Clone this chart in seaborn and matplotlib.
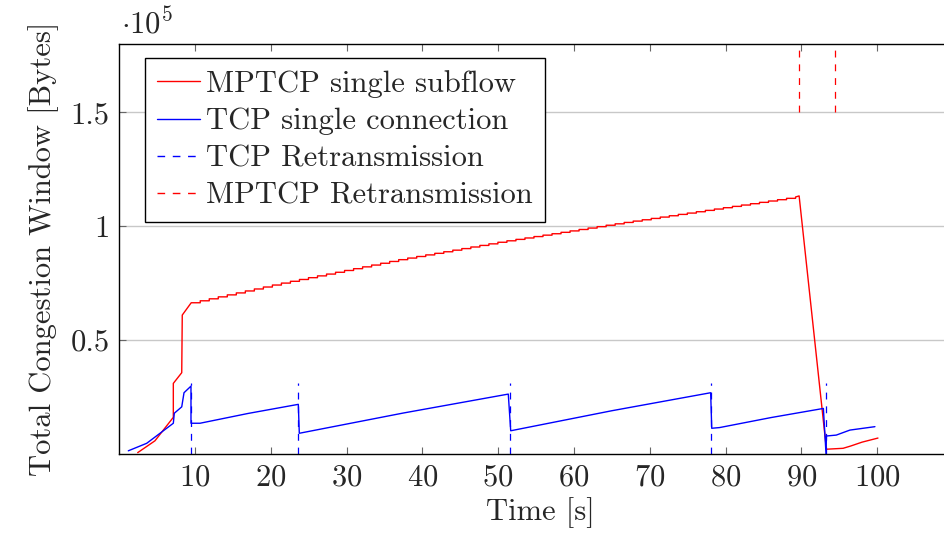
import matplotlib
matplotlib.use("Agg")
import matplotlib.pyplot as plt
import numpy as np
import pandas as pd
import seaborn as sns
from matplotlib.lines import Line2D

# ---- data -------------------------------------------------------------
# MPTCP single subflow: slow start, congestion-avoidance staircase, loss, restart
mptcp_start_t = [2.44, 4.72, 7.14, 7.14, 8.25, 8.32]
mptcp_start_v = [600, 5800, 16100, 31000, 35700, 61000]

mptcp_step_t = [9.50, 10.69, 11.88, 13.07, 14.26, 15.45, 16.64, 17.83, 19.02, 20.21,
                21.40, 22.59, 23.78, 24.97, 26.16, 27.35, 28.54, 29.73, 30.92, 32.11,
                33.30, 34.49, 35.68, 36.87, 38.06, 39.25, 40.44, 41.63, 42.82, 44.01,
                45.20, 46.39, 47.58, 48.77, 49.96, 51.15, 52.34, 53.53, 54.72, 55.91,
                57.10, 58.29, 59.48, 60.67, 61.86, 63.05, 64.24, 65.43, 66.62, 67.81,
                69.00, 70.19, 71.38, 72.57, 73.76, 74.95, 76.14, 77.33, 78.52, 79.71,
                80.90, 82.09, 83.28, 84.47, 85.66, 86.85, 88.04, 89.23]
mptcp_step_v = [66400, 67260, 68130, 68990, 69860, 70720, 71580, 72450, 73310, 74180,
                75030, 75820, 76620, 77410, 78200, 78990, 79780, 80570, 81360, 82160,
                82950, 83740, 84530, 85320, 86020, 86710, 87410, 88100, 88790, 89490,
                90180, 90880, 91570, 92260, 92960, 93600, 94220, 94840, 95460, 96080,
                96700, 97320, 97940, 98570, 99190, 99810, 100430, 101050, 101660, 102250,
                102830, 103420, 104010, 104600, 105190, 105770, 106360, 106950, 107540, 108130,
                108710, 109300, 109890, 110480, 111070, 111650, 112240, 112830]

mptcp_tail_t = [89.7, 93.3, 95.5, 96.5, 98.0, 100.1]
mptcp_tail_v = [113300, 2100, 2500, 3500, 5200, 7000]

# TCP single connection
tcp_t = [1.2, 3.63, 7.14, 7.27, 8.25, 8.55, 9.47, 9.47, 10.66, 17.0, 23.63, 23.76,
         37.5, 51.33, 51.65, 65.0, 78.03, 78.17, 79.2, 86.0, 92.9, 93.25, 93.3,
         94.6, 96.4, 99.7]
tcp_v = [1400, 4700, 13500, 17900, 20700, 26900, 29800, 13500, 13500, 17800, 21800, 9100,
         18000, 26300, 10200, 19000, 26900, 11300, 11600, 16000, 20000, 0, 7900,
         8300, 10500, 12000]

# retransmission events [s]
tcp_retx = [9.47, 23.6, 51.5, 78.1, 93.2]
mptcp_retx = [89.7, 94.4]

labels = ["MPTCP single subflow", "TCP single connection",
          "TCP Retransmission", "MPTCP Retransmission"]

# ---- build the MPTCP vertex list (staircase expanded to vertical risers) --
mp_t = list(mptcp_start_t) + [mptcp_step_t[0]]
mp_v = list(mptcp_start_v) + [mptcp_step_v[0]]
for k in range(1, len(mptcp_step_t)):
    mp_t += [mptcp_step_t[k], mptcp_step_t[k]]
    mp_v += [mptcp_step_v[k - 1], mptcp_step_v[k]]
mp_t += mptcp_tail_t
mp_v += mptcp_tail_v

df = pd.concat([
    pd.DataFrame({"t": mp_t, "cwnd": mp_v, "series": labels[0]}),
    pd.DataFrame({"t": tcp_t, "cwnd": tcp_v, "series": labels[1]}),
], ignore_index=True)

# ---- styling ----------------------------------------------------------
sns.set_style("ticks")
plt.rcParams.update({
    "font.family": "cmr10",
    "mathtext.fontset": "cm",
    "axes.unicode_minus": False,
    "axes.formatter.use_mathtext": True,
})

RED = "#ff0000"
BLUE = "#0000ff"
DASH = (0, (5.5, 5.5))

fig = plt.figure(figsize=(9.44, 5.35), dpi=100)
ax_w = 111 * 7.58
ax = fig.add_axes([119.2 / 944, 81 / 535, ax_w / 944, 410 / 535])

sns.lineplot(data=df, x="t", y="cwnd", hue="series",
             palette={labels[0]: RED, labels[1]: BLUE},
             sort=False, estimator=None, lw=1.0, legend=False, ax=ax)

ax.vlines(tcp_retx, 0, 31000, colors=BLUE, linestyles=DASH, lw=0.9)
ax.vlines(mptcp_retx, 150000, 180000, colors=RED, linestyles=DASH, lw=0.9)

ax.set_xlim(0, 111)
ax.set_ylim(0, 180000)
ax.set_xticks(range(10, 101, 10))
ax.set_yticks([50000, 100000, 150000])
ax.set_yticklabels(["0.5", "1", "1.5"])
ax.tick_params(direction="in", length=5, width=0.8, color="#666666",
               top=True, right=True, labelsize=22, pad=7)
ax.grid(axis="y", color="#c8c8c8", lw=1.0)
ax.set_axisbelow(True)
for s in ax.spines.values():
    s.set_color("black")
    s.set_linewidth(1.0)

ax.set_xlabel("Time [s]", fontsize=22, labelpad=4)
ax.set_ylabel("Total Congestion Window [Bytes]", fontsize=22, labelpad=8)
fig.text(121 / 944, 1 - 34 / 535, r"$\cdot 10^5$", fontsize=22, va="baseline")

handles = [Line2D([], [], color=RED, lw=1.0),
           Line2D([], [], color=BLUE, lw=1.0),
           Line2D([], [], color=BLUE, lw=1.0, ls=DASH),
           Line2D([], [], color=RED, lw=1.0, ls=DASH)]
leg = ax.legend(handles, labels, loc="upper left",
                bbox_to_anchor=(26 / ax_w, 1 - 14 / 410), fontsize=22,
                frameon=True, fancybox=False, edgecolor="black", framealpha=1,
                borderpad=0.4, labelspacing=0.32, handlelength=1.4,
                handletextpad=0.2, borderaxespad=0)
leg.get_frame().set_linewidth(1.0)

fig.savefig("out.png", dpi=100)
